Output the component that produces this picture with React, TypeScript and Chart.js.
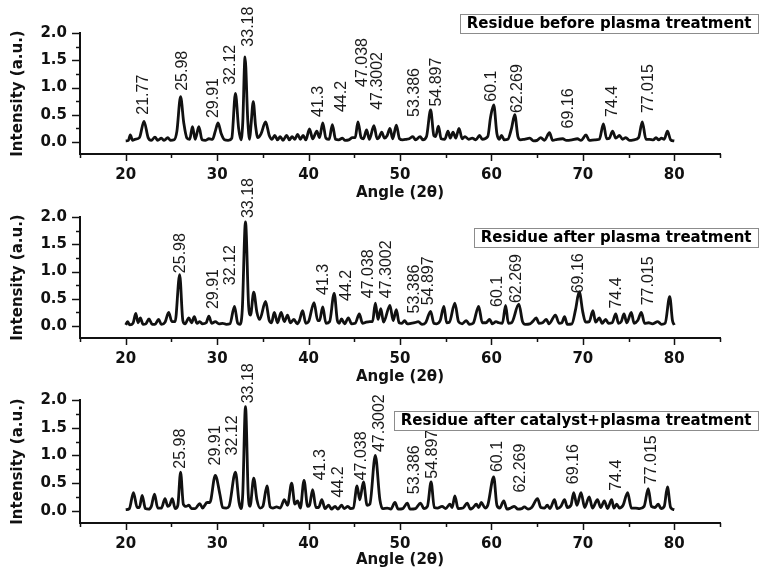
import { useEffect, useRef } from 'react';
import Chart from 'chart.js/auto';

// ---------- axis ticks ----------
const xMajorTicks = [20, 30, 40, 50, 60, 70, 80];
const xMinorTicks = [15, 25, 35, 45, 55, 65, 75, 85];
const yMajorTicks = [0, 0.5, 1, 1.5, 2];
const yMinorTicks = [0.25, 0.75, 1.25, 1.75];

// ---------- series names ----------
const beforeName = 'Residue before plasma treatment';
const plasmaName = 'Residue after plasma treatment';
const catalystName = 'Residue after catalyst+plasma treatment';

// ---------- panel 1: before plasma ----------
const beforeAngle = [
  20.0, 20.3, 20.5, 20.75, 21.0, 21.5, 22.0, 22.45, 22.8, 23.2, 23.5, 23.9, 24.2, 24.6, 24.9, 25.3, 25.6, 26.0, 26.35, 26.7,
  27.0, 27.3, 27.6, 28.0, 28.35, 28.7, 29.1, 29.5, 29.8, 30.1, 30.45, 30.8, 31.2, 31.6, 32.0, 32.35, 32.6, 32.8, 33.05, 33.35,
  33.55, 33.7, 33.95, 34.2, 34.45, 34.8, 35.3, 35.7, 36.0, 36.3, 36.6, 36.9, 37.2, 37.6, 37.9, 38.2, 38.5, 38.8, 39.1, 39.4,
  39.7, 40.1, 40.45, 40.9, 41.2, 41.55, 41.9, 42.25, 42.6, 42.95, 43.3, 43.7, 44.0, 44.4, 44.8, 45.1, 45.4, 45.75, 46.0, 46.35,
  46.65, 47.15, 47.5, 47.7, 48.0, 48.3, 48.6, 48.9, 49.2, 49.6, 49.95, 50.3, 50.7, 51.0, 51.4, 51.7, 52.2, 52.5, 52.9, 53.35,
  53.7, 53.9, 54.2, 54.5, 54.9, 55.25, 55.5, 55.8, 56.1, 56.45, 56.8, 57.1, 57.5, 57.9, 58.3, 58.7, 59.0, 59.6, 59.9, 60.25,
  60.6, 60.85, 61.1, 61.4, 61.8, 62.2, 62.55, 62.9, 63.2, 63.6, 64.2, 64.6, 65.0, 65.4, 65.8, 66.35, 66.7, 67.2, 67.8, 68.2,
  68.8, 69.4, 69.8, 70.35, 70.7, 71.3, 71.8, 72.25, 72.6, 72.9, 73.25, 73.6, 74.0, 74.35, 74.7, 75.1, 75.6, 76.1, 76.5, 76.9,
  77.3, 77.7, 78.0, 78.3, 78.6, 78.9, 79.25, 79.6, 80.0,
];
const beforeIntensity = [
  0.02, 0.03, 0.13, 0.03, 0.05, 0.08, 0.38, 0.08, 0.03, 0.09, 0.03, 0.07, 0.03, 0.08, 0.03, 0.04, 0.2, 0.83, 0.35, 0.07,
  0.05, 0.28, 0.05, 0.28, 0.04, 0.03, 0.06, 0.05, 0.2, 0.35, 0.15, 0.04, 0.03, 0.07, 0.89, 0.25, 0.04, 0.35, 1.56, 0.4,
  0.05, 0.3, 0.74, 0.3, 0.08, 0.15, 0.37, 0.12, 0.05, 0.12, 0.04, 0.1, 0.03, 0.12, 0.04, 0.1, 0.05, 0.14, 0.05, 0.12,
  0.04, 0.24, 0.06, 0.2, 0.08, 0.35, 0.07, 0.05, 0.32, 0.05, 0.04, 0.07, 0.03, 0.04, 0.08, 0.08, 0.37, 0.08, 0.06, 0.22,
  0.05, 0.3, 0.06, 0.08, 0.18, 0.07, 0.12, 0.25, 0.06, 0.31, 0.06, 0.04, 0.05, 0.06, 0.1, 0.04, 0.1, 0.04, 0.1, 0.59,
  0.12, 0.1, 0.29, 0.06, 0.05, 0.2, 0.07, 0.18, 0.07, 0.25, 0.06, 0.1, 0.05, 0.07, 0.04, 0.12, 0.05, 0.1, 0.45, 0.68,
  0.15, 0.05, 0.12, 0.04, 0.05, 0.25, 0.5, 0.1, 0.04, 0.05, 0.07, 0.02, 0.03, 0.08, 0.03, 0.17, 0.03, 0.05, 0.06, 0.03,
  0.04, 0.06, 0.03, 0.13, 0.03, 0.04, 0.05, 0.33, 0.06, 0.07, 0.2, 0.07, 0.12, 0.05, 0.08, 0.03, 0.04, 0.08, 0.37, 0.05,
  0.05, 0.04, 0.08, 0.04, 0.07, 0.05, 0.2, 0.04, 0.02,
];
const beforeLabelText = ['21.77', '25.98', '29.91', '32.12', '33.18', '41.3', '44.2', '47.038', '47.3002', '53.386', '54.897', '60.1', '62.269', '69.16', '74.4', '77.015'];
const beforeLabelAngle = [22.0, 26.2, 29.6, 31.45, 33.45, 41.1, 43.6, 45.9, 47.5, 51.6, 54.0, 60.0, 62.9, 68.45, 73.25, 77.2];
const beforeLabelLevel = [0.5, 0.94, 0.44, 1.05, 1.75, 0.46, 0.55, 1.01, 0.59, 0.46, 0.65, 0.74, 0.53, 0.25, 0.46, 0.53];

// ---------- panel 2: after plasma ----------
const plasmaAngle = [
  20.0, 20.2, 20.45, 20.8, 21.1, 21.35, 21.6, 21.9, 22.2, 22.55, 22.9, 23.2, 23.6, 23.9, 24.3, 24.7, 25.05, 25.4, 25.9, 26.25,
  26.5, 26.9, 27.2, 27.5, 27.8, 28.1, 28.4, 28.8, 29.1, 29.4, 29.8, 30.2, 30.6, 31.0, 31.4, 31.9, 32.25, 32.5, 32.75, 33.1,
  33.45, 33.65, 34.0, 34.35, 34.65, 35.3, 35.7, 35.95, 36.25, 36.6, 37.0, 37.35, 37.7, 38.0, 38.4, 38.75, 39.0, 39.35, 39.7, 40.0,
  40.6, 41.0, 41.2, 41.55, 41.9, 42.3, 42.8, 43.15, 43.35, 43.6, 43.95, 44.35, 44.7, 45.1, 45.55, 45.9, 46.3, 46.7, 47.0, 47.3,
  47.6, 47.9, 48.2, 48.9, 49.25, 49.6, 49.9, 50.2, 50.5, 50.8, 51.2, 51.6, 52.0, 52.4, 52.8, 53.35, 53.7, 54.0, 54.4, 54.8,
  55.1, 55.4, 56.0, 56.4, 56.8, 57.25, 57.6, 58.0, 58.6, 59.0, 59.4, 59.8, 60.1, 60.5, 60.8, 61.2, 61.55, 61.85, 62.2, 63.0,
  63.4, 63.7, 64.2, 64.5, 64.9, 65.2, 65.6, 66.0, 66.3, 67.0, 67.4, 67.7, 68.0, 68.3, 68.8, 69.2, 69.6, 70.0, 70.3, 70.7,
  71.1, 71.4, 71.8, 72.1, 72.5, 72.8, 73.2, 73.6, 73.9, 74.2, 74.5, 74.8, 75.3, 75.6, 76.0, 76.4, 76.75, 77.2, 77.6, 78.2,
  78.6, 79.0, 79.5, 79.8, 80.0,
];
const plasmaIntensity = [
  0.02, 0.08, 0.02, 0.05, 0.23, 0.06, 0.15, 0.03, 0.04, 0.13, 0.03, 0.03, 0.12, 0.03, 0.07, 0.25, 0.08, 0.08, 0.94, 0.1,
  0.04, 0.15, 0.06, 0.17, 0.05, 0.08, 0.04, 0.06, 0.18, 0.05, 0.08, 0.04, 0.05, 0.03, 0.04, 0.36, 0.05, 0.03, 0.3, 1.91,
  0.35, 0.2, 0.62, 0.25, 0.12, 0.45, 0.1, 0.06, 0.25, 0.06, 0.25, 0.08, 0.2, 0.06, 0.12, 0.04, 0.1, 0.28, 0.05, 0.08,
  0.43, 0.1, 0.1, 0.35, 0.05, 0.08, 0.6, 0.1, 0.05, 0.13, 0.04, 0.15, 0.04, 0.05, 0.22, 0.05, 0.07, 0.08, 0.08, 0.42,
  0.12, 0.32, 0.07, 0.38, 0.1, 0.3, 0.06, 0.05, 0.1, 0.04, 0.05, 0.06, 0.08, 0.03, 0.06, 0.27, 0.05, 0.04, 0.1, 0.36,
  0.06, 0.07, 0.42, 0.08, 0.04, 0.1, 0.03, 0.05, 0.36, 0.06, 0.06, 0.12, 0.04, 0.08, 0.06, 0.05, 0.38, 0.05, 0.06, 0.4,
  0.08, 0.03, 0.04, 0.08, 0.15, 0.05, 0.06, 0.12, 0.04, 0.2, 0.05, 0.06, 0.17, 0.03, 0.04, 0.3, 0.63, 0.25, 0.07, 0.08,
  0.28, 0.07, 0.15, 0.05, 0.12, 0.05, 0.06, 0.22, 0.05, 0.08, 0.22, 0.06, 0.25, 0.05, 0.1, 0.25, 0.05, 0.06, 0.04, 0.08,
  0.03, 0.05, 0.54, 0.1, 0.02,
];
const plasmaLabelText = ['25.98', '29.91', '32.12', '33.18', '41.3', '44.2', '47.038', '47.3002', '53.386', '54.897', '60.1', '62.269', '69.16', '74.4', '77.015'];
const plasmaLabelAngle = [26.0, 29.6, 31.45, 33.45, 41.6, 44.2, 46.55, 48.5, 51.6, 53.1, 60.7, 62.8, 69.55, 73.7, 77.2];
const plasmaLabelLevel = [0.97, 0.31, 0.75, 1.98, 0.57, 0.46, 0.51, 0.51, 0.23, 0.38, 0.35, 0.42, 0.6, 0.32, 0.38];

// ---------- panel 3: after catalyst + plasma ----------
const catalystAngle = [
  20.0, 20.4, 20.85, 21.25, 21.5, 21.8, 22.15, 22.5, 22.8, 23.15, 23.5, 23.9, 24.3, 24.6, 24.8, 25.1, 25.4, 25.7, 26.0, 26.3,
  26.6, 26.9, 27.2, 27.6, 28.1, 28.4, 28.9, 29.2, 29.8, 30.3, 30.6, 31.0, 31.3, 32.0, 32.4, 32.6, 32.8, 33.1, 33.4, 33.6,
  34.0, 34.35, 34.7, 35.0, 35.45, 35.8, 36.1, 36.5, 36.9, 37.35, 37.7, 38.15, 38.5, 38.8, 39.1, 39.5, 39.9, 40.1, 40.45, 40.8,
  41.1, 41.45, 41.8, 42.2, 42.5, 42.9, 43.2, 43.6, 43.9, 44.3, 44.6, 44.9, 45.3, 45.6, 46.0, 46.4, 46.7, 47.3, 47.8, 48.1,
  48.6, 49.0, 49.45, 49.8, 50.3, 50.8, 51.1, 51.7, 52.25, 52.6, 53.0, 53.4, 53.75, 54.1, 54.6, 55.0, 55.45, 55.7, 56.0, 56.35,
  56.9, 57.35, 57.7, 58.0, 58.35, 58.6, 58.9, 59.3, 59.6, 60.25, 60.6, 60.9, 61.35, 61.7, 62.1, 62.5, 62.9, 63.3, 63.6, 64.0,
  64.4, 65.05, 65.4, 65.8, 66.1, 66.4, 66.9, 67.2, 67.6, 68.0, 68.3, 68.7, 69.0, 69.35, 69.8, 70.2, 70.7, 71.05, 71.6, 71.95,
  72.35, 72.7, 73.15, 73.4, 73.7, 74.0, 74.4, 74.9, 75.3, 75.8, 76.2, 76.7, 77.15, 77.5, 77.9, 78.25, 78.55, 78.9, 79.25, 79.6,
  80.0,
];
const catalystIntensity = [
  0.02, 0.04, 0.33, 0.06, 0.06, 0.28, 0.04, 0.03, 0.08, 0.3, 0.05, 0.05, 0.22, 0.08, 0.1, 0.22, 0.04, 0.1, 0.7, 0.12,
  0.08, 0.1, 0.04, 0.04, 0.13, 0.05, 0.15, 0.15, 0.64, 0.3, 0.06, 0.05, 0.08, 0.7, 0.15, 0.04, 0.3, 1.88, 0.3, 0.08,
  0.59, 0.2, 0.05, 0.08, 0.45, 0.07, 0.05, 0.07, 0.05, 0.2, 0.1, 0.5, 0.12, 0.18, 0.05, 0.55, 0.08, 0.1, 0.38, 0.06,
  0.06, 0.2, 0.04, 0.1, 0.03, 0.08, 0.03, 0.1, 0.04, 0.08, 0.04, 0.05, 0.45, 0.2, 0.52, 0.1, 0.12, 1.0, 0.2, 0.04,
  0.05, 0.03, 0.15, 0.03, 0.04, 0.14, 0.03, 0.04, 0.14, 0.04, 0.08, 0.52, 0.06, 0.05, 0.08, 0.04, 0.12, 0.06, 0.27, 0.04,
  0.05, 0.14, 0.03, 0.06, 0.12, 0.06, 0.15, 0.05, 0.1, 0.61, 0.1, 0.05, 0.18, 0.03, 0.05, 0.08, 0.03, 0.04, 0.07, 0.03,
  0.06, 0.22, 0.06, 0.05, 0.1, 0.04, 0.2, 0.04, 0.08, 0.2, 0.06, 0.1, 0.33, 0.1, 0.33, 0.06, 0.25, 0.05, 0.2, 0.06,
  0.18, 0.04, 0.2, 0.05, 0.12, 0.05, 0.1, 0.33, 0.05, 0.05, 0.04, 0.08, 0.4, 0.08, 0.06, 0.12, 0.04, 0.08, 0.43, 0.06,
  0.02,
];
const catalystLabelText = ['25.98', '29.91', '32.12', '33.18', '41.3', '44.2', '47.038', '47.3002', '53.386', '54.897', '60.1', '62.269', '69.16', '74.4', '77.015'];
const catalystLabelAngle = [26.0, 29.8, 31.65, 33.45, 41.3, 43.25, 45.8, 47.8, 51.6, 53.6, 60.7, 63.15, 69.0, 73.7, 77.55];
const catalystLabelLevel = [0.76, 0.82, 1.0, 1.94, 0.55, 0.24, 0.55, 1.06, 0.3, 0.58, 0.7, 0.33, 0.48, 0.36, 0.48];

// ---------- layout (not data) ----------
type Layout = { top: number; height: number; padTop: number; titlePad: number; boxTop: number };

const BOLD = '"DejaVu Sans", "Liberation Sans", sans-serif';
const LABEL_FONT = '16px "Liberation Sans", Arial, sans-serif';
const INK = '#111';

type PanelProps = {
  name: string;
  angles: number[];
  values: number[];
  labelText: string[];
  labelAngle: number[];
  labelLevel: number[];
  layout: Layout;
};

function Panel({ name, angles, values, labelText, labelAngle, labelLevel, layout }: PanelProps) {
  const ref = useRef<HTMLCanvasElement>(null);

  useEffect(() => {
    if (!ref.current) return;
    const decor = {
      id: 'decor',
      afterDraw(chart: any) {
        const { ctx, chartArea } = chart;
        const xs = chart.scales.x;
        const ys = chart.scales.y;
        ctx.save();
        // tick marks
        ctx.strokeStyle = INK;
        ctx.lineWidth = 1.5;
        const xTick = (v: number, len: number) => {
          const px = Math.round(xs.getPixelForValue(v)) + 0.5;
          ctx.beginPath();
          ctx.moveTo(px, chartArea.bottom);
          ctx.lineTo(px, chartArea.bottom + len);
          ctx.stroke();
        };
        const yTick = (v: number, len: number) => {
          const py = Math.round(ys.getPixelForValue(v)) + 0.5;
          ctx.beginPath();
          ctx.moveTo(chartArea.left, py);
          ctx.lineTo(chartArea.left - len, py);
          ctx.stroke();
        };
        xMajorTicks.forEach((v) => xTick(v, 7));
        xMinorTicks.forEach((v) => xTick(v, 4));
        yMajorTicks.forEach((v) => yTick(v, 8));
        yMinorTicks.forEach((v) => yTick(v, 4));

        // peak labels
        ctx.fillStyle = '#1a1a1a';
        ctx.font = LABEL_FONT;
        ctx.textAlign = 'left';
        ctx.textBaseline = 'middle';
        labelText.forEach((t, i) => {
          const px = xs.getPixelForValue(labelAngle[i]);
          const py = ys.getPixelForValue(labelLevel[i]);
          ctx.save();
          ctx.translate(px, py);
          ctx.rotate(-Math.PI / 2);
          ctx.fillText(t, 0, 0);
          ctx.restore();
        });

        // legend box
        ctx.font = `bold 15px ${BOLD}`;
        const w = ctx.measureText(name).width;
        const right = 758;
        const boxW = w + 13;
        const left = right - boxW;
        ctx.strokeStyle = '#8c8c8c';
        ctx.lineWidth = 1;
        ctx.strokeRect(Math.round(left) + 0.5, layout.boxTop + 0.5, Math.round(boxW), 19);
        ctx.fillStyle = '#000';
        ctx.textAlign = 'left';
        ctx.textBaseline = 'middle';
        ctx.fillText(name, left + 6.5, layout.boxTop + 10.5);
        ctx.restore();
      },
    };

    const chart = new Chart(ref.current, {
      type: 'line',
      data: {
        datasets: [
          {
            label: name,
            data: angles.map((a, i) => ({ x: a, y: values[i] })),
            borderColor: INK,
            borderWidth: 2.8,
            pointRadius: 0,
            fill: false,
            cubicInterpolationMode: 'monotone',
          },
        ],
      },
      options: {
        animation: false,
        responsive: false,
        maintainAspectRatio: false,
        events: [],
        layout: { padding: { top: layout.padTop, right: 47, left: 0, bottom: 0 } },
        plugins: { legend: { display: false }, tooltip: { enabled: false } },
        scales: {
          x: {
            type: 'linear',
            min: 15,
            max: 85,
            grid: { display: false, drawTicks: false },
            border: { display: true, color: INK, width: 2 },
            afterBuildTicks: (s: any) => {
              s.ticks = [...xMinorTicks, ...xMajorTicks].sort((a, b) => a - b).map((v) => ({ value: v }));
            },
            ticks: {
              autoSkip: false,
              maxRotation: 0,
              padding: 12,
              color: INK,
              font: { family: BOLD, size: 15, weight: 'bold' },
              callback: (v: any) => (xMajorTicks.includes(Number(v)) ? String(v) : ''),
            },
            title: {
              display: true,
              text: 'Angle (2θ)',
              color: INK,
              font: { family: BOLD, size: 15, weight: 'bold' },
              padding: { top: 0, bottom: layout.titlePad },
            },
            afterFit: (s: any) => {
              s.height = 51;
            },
          },
          y: {
            type: 'linear',
            min: -0.22,
            max: 2.0,
            grid: { display: false, drawTicks: false },
            border: { display: true, color: INK, width: 2 },
            afterBuildTicks: (s: any) => {
              s.ticks = [...yMajorTicks, ...yMinorTicks].sort((a, b) => a - b).map((v) => ({ value: v }));
            },
            ticks: {
              autoSkip: false,
              padding: 13,
              color: INK,
              font: { family: BOLD, size: 15, weight: 'bold' },
              callback: (v: any) => (yMajorTicks.includes(Number(v)) ? Number(v).toFixed(1) : ''),
            },
            title: {
              display: true,
              text: 'Intensity (a.u.)',
              color: INK,
              font: { family: BOLD, size: 15, weight: 'bold' },
              padding: { top: 9, bottom: 0 },
            },
            afterFit: (s: any) => {
              s.width = 80;
            },
          },
        },
      } as any,
      plugins: [decor],
    });
    return () => chart.destroy();
  }, []);

  return (
    <canvas
      ref={ref}
      width={767}
      height={layout.height}
      style={{ position: 'absolute', left: 0, top: layout.top, width: 767, height: layout.height }}
    />
  );
}

export default function App() {
  return (
    <div style={{ position: 'absolute', left: 0, top: 0, width: 767, height: 574, background: '#fff', overflow: 'hidden' }}>
      <Panel
        name={beforeName}
        angles={beforeAngle}
        values={beforeIntensity}
        labelText={beforeLabelText}
        labelAngle={beforeLabelAngle}
        labelLevel={beforeLabelLevel}
        layout={{ top: 0, height: 205, padTop: 33, titlePad: 3, boxTop: 14 }}
      />
      <Panel
        name={plasmaName}
        angles={plasmaAngle}
        values={plasmaIntensity}
        labelText={plasmaLabelText}
        labelAngle={plasmaLabelAngle}
        labelLevel={plasmaLabelLevel}
        layout={{ top: 150, height: 239, padTop: 67, titlePad: 3, boxTop: 78 }}
      />
      <Panel
        name={catalystName}
        angles={catalystAngle}
        values={catalystIntensity}
        labelText={catalystLabelText}
        labelAngle={catalystLabelAngle}
        labelLevel={catalystLabelLevel}
        layout={{ top: 340, height: 234, padTop: 60, titlePad: 5, boxTop: 71 }}
      />
    </div>
  );
}
